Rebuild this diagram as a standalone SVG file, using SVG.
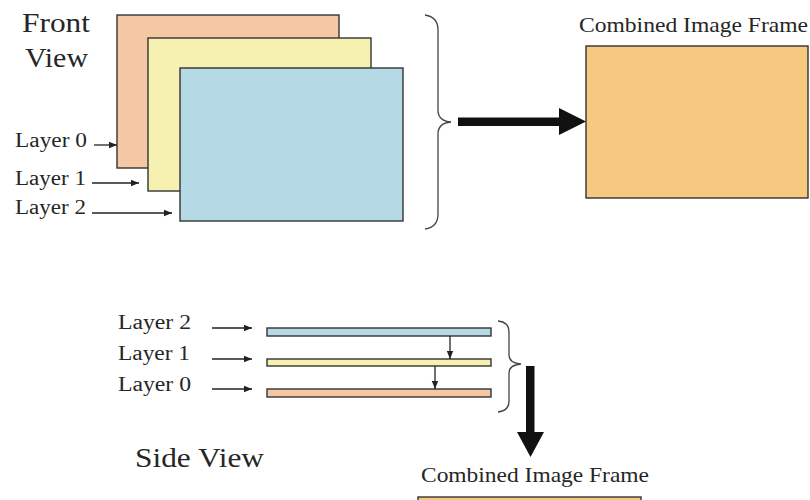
<svg xmlns="http://www.w3.org/2000/svg" width="810" height="500" viewBox="0 0 810 500">
<style>
.t{font-family:"Liberation Serif","Times New Roman",serif;fill:#262626}
.lbl{font-size:20px}
.big{font-size:27px}
.cap{font-size:22px}
.box{stroke:#333;stroke-width:1.4}
.l0{fill:#F4C8A4}
.l1{fill:#F6F1B0}
.l2{fill:#B5DAE6}
.cf{fill:#F5CA80}
.ln{stroke:#222;stroke-width:1.3;fill:none}
.br{stroke:#444;stroke-width:1.3;fill:none}
.fat{fill:#111}
</style>
<defs>
<marker id="ah" viewBox="0 0 10 10" refX="10" refY="5" markerWidth="8" markerHeight="8" markerUnits="userSpaceOnUse" orient="auto">
<path d="M0,1 L10,5 L0,9 Z" fill="#222"/>
</marker>
</defs>
<rect width="810" height="500" fill="#fff"/>

<g id="front-title">
<text class="t big" x="22" y="32" textLength="68" lengthAdjust="spacingAndGlyphs">Front</text>
<text class="t big" x="25" y="67" textLength="63" lengthAdjust="spacingAndGlyphs">View</text>
</g>

<g id="front-layer0">
<rect class="box l0" x="117" y="15" width="222" height="153"/>
<text class="t lbl" x="15" y="147" textLength="72" lengthAdjust="spacingAndGlyphs">Layer 0</text>
</g>
<g id="front-layer1">
<rect class="box l1" x="148" y="38" width="223" height="153"/>
<text class="t lbl" x="15" y="185" textLength="71" lengthAdjust="spacingAndGlyphs">Layer 1</text>
</g>
<g id="front-layer2">
<rect class="box l2" x="180" y="68" width="223" height="153"/>
<text class="t lbl" x="15" y="214" textLength="71" lengthAdjust="spacingAndGlyphs">Layer 2</text>
</g>

<g id="front-combined">
<text class="t cap" x="579" y="32" textLength="229" lengthAdjust="spacingAndGlyphs">Combined Image Frame</text>
<rect class="box cf" x="586" y="46" width="222" height="152"/>
</g>

<g id="side-title">
<text class="t big" x="135" y="467" textLength="129" lengthAdjust="spacingAndGlyphs">Side View</text>
</g>

<g id="side-layer2">
<text class="t lbl" x="118" y="329" textLength="73" lengthAdjust="spacingAndGlyphs">Layer 2</text>
<rect class="box l2" x="267" y="328" width="224" height="8"/>
</g>
<g id="side-layer1">
<text class="t lbl" x="118" y="360" textLength="72" lengthAdjust="spacingAndGlyphs">Layer 1</text>
<rect class="box l1" x="267" y="359" width="224" height="7"/>
</g>
<g id="side-layer0">
<text class="t lbl" x="118" y="391" textLength="73" lengthAdjust="spacingAndGlyphs">Layer 0</text>
<rect class="box l0" x="267" y="389" width="224" height="8"/>
</g>

<g id="side-combined">
<text class="t cap" x="421" y="482" textLength="228" lengthAdjust="spacingAndGlyphs">Combined Image Frame</text>
<rect class="box cf" x="418" y="497" width="223" height="10"/>
</g>

<g id="connectors">
<line class="ln" x1="94" y1="145" x2="117" y2="145" marker-end="url(#ah)"/>
<line class="ln" x1="92" y1="183" x2="139" y2="183" marker-end="url(#ah)"/>
<line class="ln" x1="92" y1="213" x2="172" y2="213" marker-end="url(#ah)"/>
<path class="br" d="M425,15 Q438,17 438,30 L438,110 Q438,121 451,122 Q438,123 438,134 L438,214 Q438,227 425,229"/>
<rect class="fat" x="458" y="117.5" width="104" height="8.5"/>
<polygon class="fat" points="559,108 586,121.5 559,135"/>

<line class="ln" x1="212" y1="328" x2="252" y2="328" marker-end="url(#ah)"/>
<line class="ln" x1="212" y1="359" x2="252" y2="359" marker-end="url(#ah)"/>
<line class="ln" x1="212" y1="389" x2="252" y2="389" marker-end="url(#ah)"/>
<line class="ln" x1="450" y1="336" x2="450" y2="359" marker-end="url(#ah)"/>
<line class="ln" x1="435" y1="366" x2="435" y2="389" marker-end="url(#ah)"/>
<path class="br" d="M498,321 Q509,322 509,332 L509,355 Q509,363 521,364 Q509,365 509,373 L509,401 Q509,411 498,412"/>
<rect class="fat" x="526" y="366" width="8.5" height="68"/>
<polygon class="fat" points="517,432 544,432 530.5,457"/>
</g>
</svg>
